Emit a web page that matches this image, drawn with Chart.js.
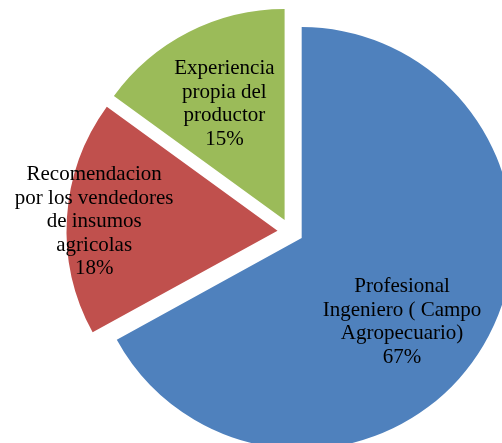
<!DOCTYPE html>
<html>
<head>
<meta charset="utf-8">
<title>Fuente de asesoria</title>
<script src="https://cdn.jsdelivr.net/npm/chart.js@4.4.0/dist/chart.umd.min.js"></script>
<style>
  html, body { margin: 0; padding: 0; background: #fff; overflow: hidden; }
  #wrap { position: relative; width: 502px; height: 443px; }
</style>
</head>
<body>
<div id="wrap"><canvas id="fuentes"></canvas></div>
<script>
// Slice names (already broken into lines) and their shares
const categories = [
    ['Profesional', 'Ingeniero ( Campo', 'Agropecuario)'],
    ['Recomendacion', 'por los vendedores', 'de insumos', 'agricolas'],
    ['Experiencia', 'propia del', 'productor']
];
const values = [67, 18, 15];
const sliceColors = ['#4F81BD', '#C0504D', '#9BBB59'];

// How far each slice is pulled out of the centre (px)
const EXPLODE = 13;
const LINE_H = 23.5;
// Label placement: fraction of the radius and a small turn (deg) off the mid angle
const labelRadius = [0.62, 0.87, 0.62];
const labelTurn = [9.3, -0.8, -0.4];

/**
 * Draw the arcs ourselves so every slice gets the same pull-out
 * without the radius growth that the built-in offset adds.
 */
const explodePlugin = {
    id: 'explode',
    beforeDatasetDraw(chart, args) {
        const ctx = chart.ctx;
        args.meta.data.forEach(arc => {
            const mid = (arc.startAngle + arc.endAngle) / 2;
            ctx.save();
            ctx.translate(Math.cos(mid) * EXPLODE, Math.sin(mid) * EXPLODE);
            arc.draw(ctx);
            ctx.restore();
        });
        return false;
    }
};

/**
 * Category name + percentage inside each slice
 */
const labelPlugin = {
    id: 'sliceLabels',
    afterDatasetsDraw(chart) {
        const ctx = chart.ctx;
        const meta = chart.getDatasetMeta(0);
        const total = values.reduce((a, b) => a + b, 0);
        ctx.save();
        ctx.font = '21px "Liberation Serif", "Times New Roman", serif';
        ctx.fillStyle = '#000';
        ctx.textAlign = 'center';
        ctx.textBaseline = 'middle';
        meta.data.forEach((arc, i) => {
            const mid = (arc.startAngle + arc.endAngle) / 2;
            const cx = arc.x + Math.cos(mid) * EXPLODE;
            const cy = arc.y + Math.sin(mid) * EXPLODE;
            const a = mid + labelTurn[i] * Math.PI / 180;
            const r = arc.outerRadius * labelRadius[i];
            const x = cx + Math.cos(a) * r;
            const y = cy + Math.sin(a) * r;
            const lines = categories[i].concat(Math.round(values[i] / total * 100) + '%');
            const top = y - (lines.length - 1) * LINE_H / 2;
            lines.forEach((t, k) => ctx.fillText(t, x, top + k * LINE_H));
        });
        ctx.restore();
    }
};

new Chart(document.getElementById('fuentes'), {
    type: 'pie',
    data: {
        labels: categories,
        datasets: [{
            data: values,
            backgroundColor: sliceColors,
            borderWidth: 0
        }]
    },
    options: {
        responsive: true,
        maintainAspectRatio: false,
        animation: false,
        events: [],
        radius: 211,
        layout: { padding: { left: 79, top: 20, right: 0, bottom: 0 } },
        plugins: {
            legend: { display: false },
            tooltip: { enabled: false }
        }
    },
    plugins: [explodePlugin, labelPlugin]
});
</script>
</body>
</html>
